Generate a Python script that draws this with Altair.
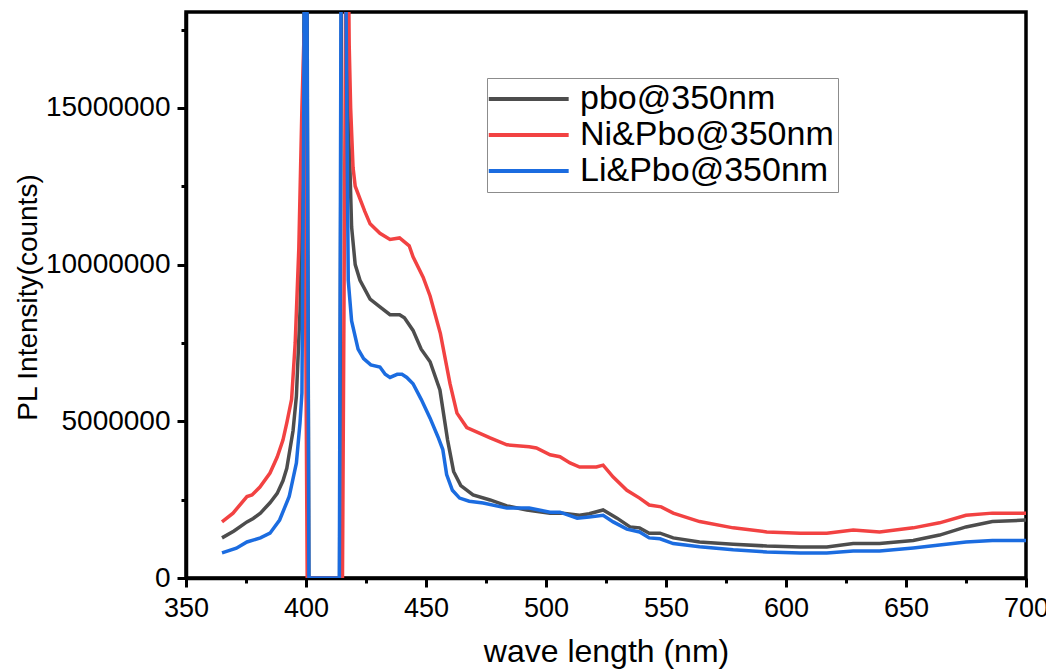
import altair as alt
import pandas as pd

# ---- data (values in millions of counts) ----
pbo_x = [365, 370, 375.4, 378, 381, 385, 388, 390.4, 392, 394.6, 396, 397.5, 398.8, 400, 401.2,
         414, 415.2, 416.8, 417.6, 418.3, 419, 420.5, 422.5, 426.7, 430.8, 435, 439, 441, 444.6,
         448, 451.7, 455.8, 459, 461.5, 464.5, 469.6, 476.7, 483.7, 492, 501.7, 507, 514, 518,
         523.8, 529.6, 535, 539, 543, 547.5, 553, 564, 578, 592, 606, 617, 628, 639, 653, 664,
         675, 686, 700]
pbo_y = [1.28, 1.5, 1.79, 1.9, 2.07, 2.4, 2.7, 3.1, 3.5, 4.7, 5.8, 8.5, 13, 30, 0,
         0, 30, 18.5, 14.5, 13.1, 11.2, 10.0, 9.5, 8.9, 8.65, 8.4, 8.4, 8.3, 7.9,
         7.3, 6.9, 6.0, 4.4, 3.4, 2.95, 2.65, 2.49, 2.3, 2.17, 2.07, 2.07, 2.0, 2.05,
         2.17, 1.91, 1.63, 1.6, 1.43, 1.43, 1.28, 1.15, 1.08, 1.02, 0.99, 0.99, 1.1, 1.1, 1.2, 1.37,
         1.63, 1.8, 1.85]

ni_x = [365, 369.6, 375.4, 377.5, 380.8, 385, 388, 390.4, 392, 394, 395.5, 397, 398.3, 399.2, 400.5,
        415.2, 417, 418.0, 418.6, 419.6, 420.5, 422.5, 424.5, 426.7, 430.8, 435, 439, 443, 444.6,
        448.8, 451.7, 456, 460, 462.9, 467, 476.7, 483.7, 493, 496, 501.7, 505.8, 510, 514, 521,
        523.8, 528, 533.7, 539, 543, 548, 553, 564, 578, 592, 606, 617, 628, 639, 653, 664, 675,
        686, 700]
ni_y = [1.79, 2.07, 2.6, 2.65, 2.9, 3.35, 3.86, 4.4, 4.95, 5.7, 7.5, 10.5, 15, 17.4, 0,
        0, 25, 17.0, 15.0, 13.1, 12.5, 12.1, 11.7, 11.3, 11.0, 10.8, 10.85, 10.6, 10.25,
        9.6, 9.0, 7.8, 6.2, 5.26, 4.8, 4.47, 4.25, 4.19, 4.15, 3.93, 3.87, 3.67, 3.54, 3.54,
        3.6, 3.22, 2.8, 2.55, 2.33, 2.27, 2.07, 1.8, 1.6, 1.47, 1.43, 1.43, 1.53, 1.47, 1.6, 1.76, 2.0,
        2.07, 2.07]

li_x = [365, 371, 375.4, 381, 385, 389, 393, 396, 397.5, 398.3, 399.0, 399.9, 401.2,
        413.9, 415.0, 416.5, 417.6, 419, 421.7, 424, 427, 430.8, 433, 435, 438, 440, 442, 444.6,
        448, 451.7, 455, 457, 458.6, 461, 464, 468, 473.8, 483.7, 493, 501.7, 505.8, 513, 518,
        523.8, 528, 533.7, 539, 543, 547.5, 553, 564, 578, 592, 606, 617, 628, 639, 653, 664,
        675, 686, 700]
li_y = [0.8, 0.95, 1.15, 1.28, 1.43, 1.85, 2.6, 3.67, 4.95, 5.9, 14, 30, 0,
        0, 30, 20, 9.5, 8.2, 7.3, 7.0, 6.8, 6.73, 6.5, 6.4, 6.5, 6.5, 6.4, 6.2,
        5.7, 5.1, 4.5, 4.1, 3.3, 2.8, 2.55, 2.45, 2.39, 2.23, 2.23, 2.1, 2.1, 1.91, 1.95,
        2.0, 1.79, 1.56, 1.47, 1.28, 1.25, 1.1, 1.0, 0.9, 0.83, 0.8, 0.8, 0.86, 0.86, 0.96, 1.05,
        1.15, 1.2, 1.2]

series_names = ["pbo@350nm", "Ni&Pbo@350nm", "Li&Pbo@350nm"]
series_colors = ["#4d4d4d", "#f24242", "#1b6ce0"]
x_ticks = [350, 375, 400, 425, 450, 475, 500, 525, 550, 575, 600, 625, 650, 675, 700]
y_ticks = [0, 2500000, 5000000, 7500000, 10000000, 12500000, 15000000, 17500000]

rows = []
for name, xs, ys in [(series_names[0], pbo_x, pbo_y),
                     (series_names[1], ni_x, ni_y),
                     (series_names[2], li_x, li_y)]:
    for i, (a, b) in enumerate(zip(xs, ys)):
        rows.append({"series": name, "wl": a, "counts": b * 1e6, "idx": i})
df = pd.DataFrame(rows)

FONT = "Liberation Sans"

x_axis = alt.Axis(
    values=x_ticks, title="wave length (nm)", grid=False,
    labelExpr="datum.value % 50 === 0 ? datum.label : ''",
    labelFontSize=27, labelFont=FONT, labelColor="black", labelFlush=False,
    labelOverlap=False, labelPadding=8,
    tickSize={"condition": {"test": "datum.value % 50 === 0", "value": 9}, "value": 5},
    tickWidth=3, tickColor="black", domainWidth=3.5, domainColor="black",
    titleFontSize=32, titleFont=FONT, titleFontWeight="normal", titleColor="black",
    titleY=58, titleBaseline="top",
)
y_axis = alt.Axis(
    values=y_ticks, title="PL Intensity(counts)", grid=False, format="d",
    labelExpr="datum.value % 5000000 === 0 ? datum.label : ''",
    labelFontSize=28, labelFont=FONT, labelColor="black", labelFlush=False,
    labelOverlap=False, labelPadding=7,
    tickSize={"condition": {"test": "datum.value % 5000000 === 0", "value": 9}, "value": 5},
    tickWidth=3, tickColor="black", domainWidth=3.5, domainColor="black",
    titleFontSize=28, titleFont=FONT, titleFontWeight="normal", titleColor="black",
    titleX=-158, titleY=285, titleBaseline="middle", titleAlign="center",
)

chart = alt.Chart(df).mark_line(clip=True, strokeWidth=3.5).encode(
    x=alt.X("wl:Q", scale=alt.Scale(domain=[350, 700], nice=False, zero=False), axis=x_axis),
    y=alt.Y("counts:Q", scale=alt.Scale(domain=[0, 18060000], nice=False), axis=y_axis),
    color=alt.Color("series:N", sort=series_names,
                    scale=alt.Scale(domain=series_names, range=series_colors),
                    legend=alt.Legend(
                        title=None, orient="none", legendX=301, legendY=66,
                        symbolType="M-1.3,0H4.1", symbolStrokeWidth=4, symbolSize=876,
                        labelFontSize=34, labelFont=FONT, labelColor="black", labelLimit=500,
                        labelOffset=55, rowPadding=2, padding=4,
                        strokeColor="#8c8c8c", fillColor="white",
                    )),
    detail="series:N",
    order="idx:Q",
).properties(
    width=840, height=566,
    autosize=alt.AutoSizeParams(type="none"),
    padding={"left": 186, "top": 12, "right": 20, "bottom": 91},
    background="white",
).configure_view(
    stroke="black", strokeWidth=3.5
)

chart.save("out.html", embed_options={"renderer": "svg", "actions": False})
